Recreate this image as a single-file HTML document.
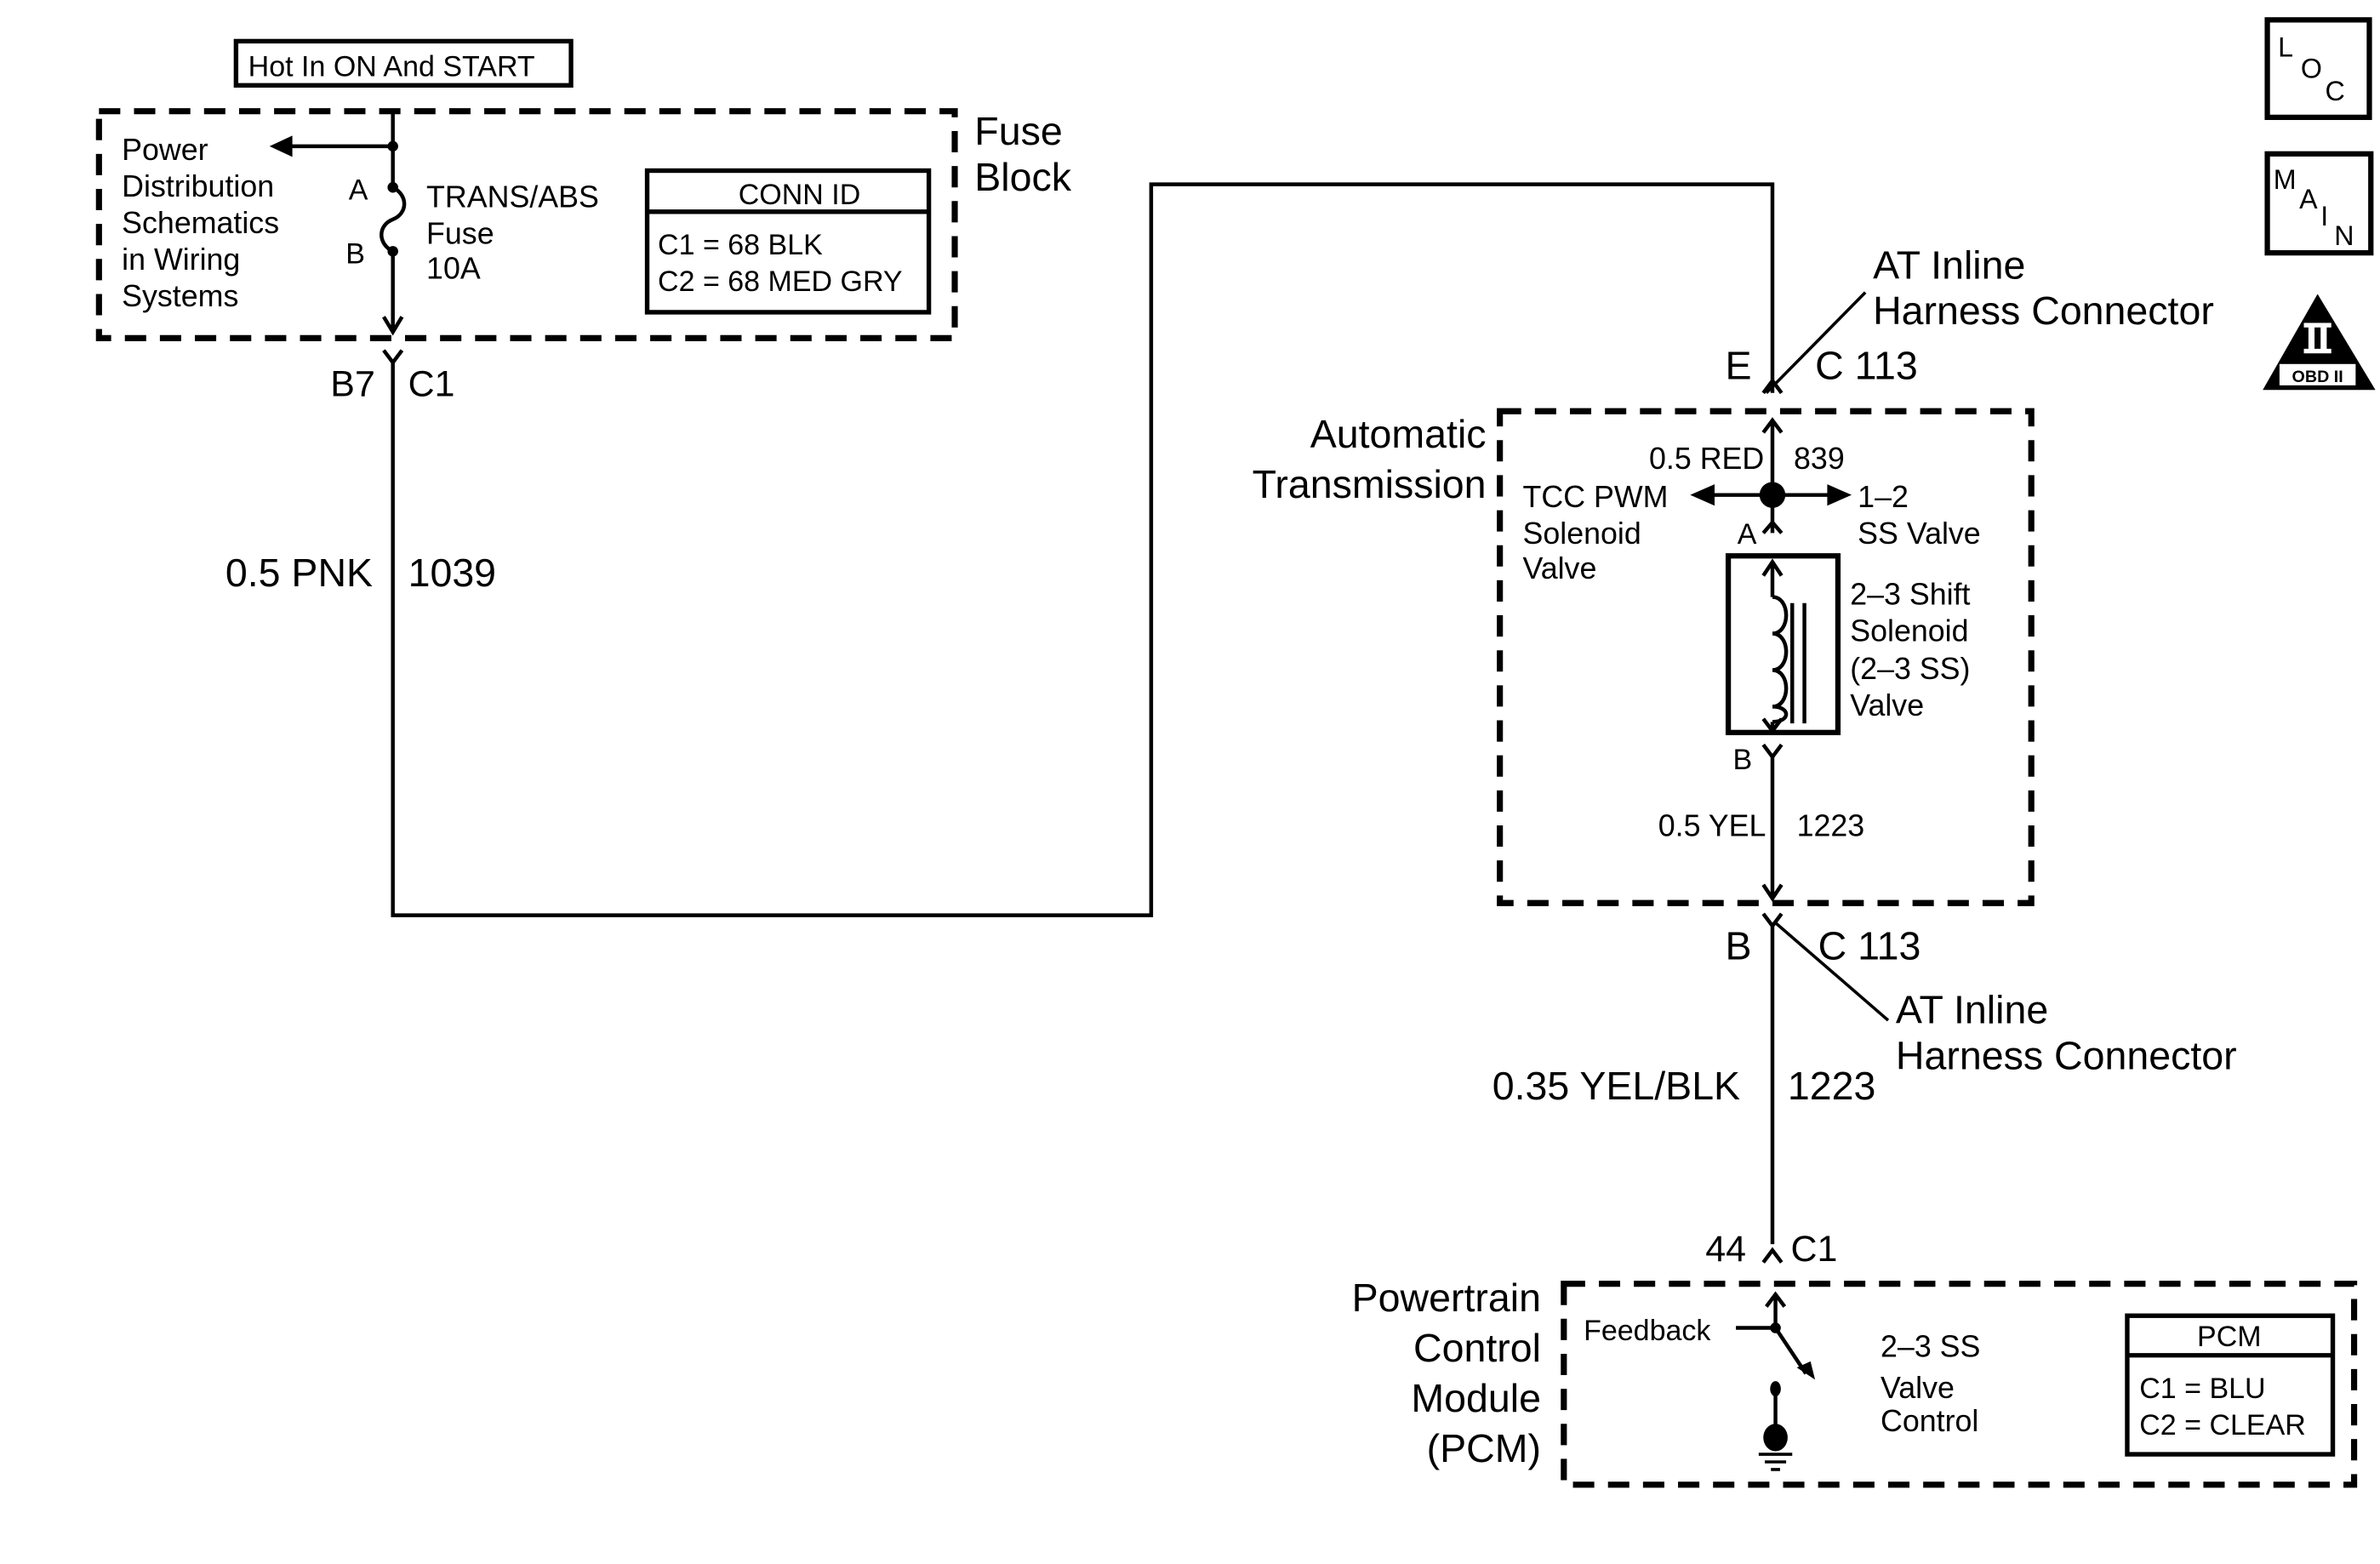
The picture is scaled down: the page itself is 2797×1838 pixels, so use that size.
<!DOCTYPE html>
<html><head><meta charset="utf-8"><style>
html,body{margin:0;padding:0;background:#fff;}
svg{display:block;}
text{font-family:"Liberation Sans",Arial,sans-serif;fill:#000;}
</style></head><body>
<svg width="2797" height="1838" viewBox="0 0 1563 1027" xmlns="http://www.w3.org/2000/svg">
<g fill="none" stroke="#000" stroke-width="2.5">
<rect x="155" y="27" width="220" height="29" stroke-width="3"/>
<g stroke-width="4" stroke-dasharray="14,9">
<rect x="65" y="73" width="562" height="149"/>
<rect x="985" y="270" width="349" height="323"/>
<rect x="1027" y="843" width="519" height="132"/>
</g>
<path d="M258 73 V123 M258 165 V218 M252 208 L258 218 L264 208"/>
<path d="M258 123 C268 128 268 140 258 144 C248 148 248 160 258 165"/>
<path d="M258 96 H190"/>
<rect x="425" y="112" width="185" height="93" stroke-width="3"/>
<path d="M425 139 H610" stroke-width="3"/>
<path d="M252 230 L258 238 L264 230"/>
<path d="M258 238 V601 H756 V121 H1164 V258"/>
<path d="M1158 258 L1164 250 L1170 258"/>
<path d="M1160 258 L1225 192" stroke-width="2"/>
<path d="M1164 278 V350 M1158 284 L1164 276 L1170 284"/>
<path d="M1158 350 L1164 343 L1170 350"/>
<path d="M1164 325 H1124 M1164 325 H1202"/>
<rect x="1135" y="365" width="72" height="116" stroke-width="3.5"/>
<path d="M1164 369 V392 M1158 378 L1164 369 L1170 378"/>
<path d="M1164 392 C1176 392 1176 416 1164 416 C1176 416 1176 440 1164 440 C1176 440 1176 464 1164 464 C1176 464 1176 474 1164 474"/>
<path d="M1164 474 V480 M1158 472 L1164 480 L1170 472"/>
<path d="M1177 396 V475 M1185 396 V475"/>
<path d="M1158 489 L1164 497 L1170 489 M1164 497 V590 M1158 581 L1164 590 L1170 581"/>
<path d="M1158 600 L1164 608 L1170 600 M1164 608 V817"/>
<path d="M1166 606 L1240 670" stroke-width="2"/>
<path d="M1158 829 L1164 821 L1170 829"/>
<path d="M1166 850 V872 M1160 858 L1166 850 L1172 858"/>
<path d="M1140 872 H1166 L1186 902"/>
<path d="M1166 912 V944"/>
<path d="M1155 955 H1177 M1159 960 H1173 M1163 965 H1169" stroke-width="2"/>
<rect x="1397" y="864" width="135" height="91" stroke-width="3"/>
<path d="M1397 890 H1532" stroke-width="3"/>
<rect x="1489" y="13" width="67" height="64" stroke-width="3.5"/>
<rect x="1489" y="101" width="68" height="65" stroke-width="3.5"/>
</g>
<g fill="#000">
<path d="M177 96 L192 89 L192 103 Z"/>
<circle cx="258" cy="96" r="3.5"/><circle cx="258" cy="123" r="3.5"/><circle cx="258" cy="165" r="3.5"/>
<circle cx="1164" cy="325" r="8.5"/>
<path d="M1110 325 L1126 318 L1126 332 Z M1216 325 L1200 318 L1200 332 Z"/>
<circle cx="1166" cy="872" r="3.5"/>
<path d="M1192 906 L1180 898 L1189 894 Z"/>
<ellipse cx="1166" cy="912" rx="3.5" ry="5"/>
<ellipse cx="1166" cy="944" rx="8" ry="9"/>
<path d="M1522 193 L1486 256 L1560 256 Z"/>
</g>
<g fill="#fff">
<rect x="1513" y="212" width="18" height="3"/>
<rect x="1513" y="229" width="18" height="3"/>
<rect x="1516" y="214" width="4" height="16"/>
<rect x="1524" y="214" width="4" height="16"/>
<rect x="1497" y="239" width="50" height="14"/>
</g>
<g font-size="19">
<text x="163" y="50">Hot In ON And START</text>
<text x="80" y="105" font-size="20">Power</text>
<text x="80" y="129" font-size="20">Distribution</text>
<text x="80" y="153" font-size="20">Schematics</text>
<text x="80" y="177" font-size="20">in Wiring</text>
<text x="80" y="201" font-size="20">Systems</text>
<text x="229" y="131">A</text>
<text x="227" y="173">B</text>
<text x="280" y="136" font-size="20">TRANS/ABS</text>
<text x="280" y="160" font-size="20">Fuse</text>
<text x="280" y="183" font-size="20">10A</text>
<text x="525" y="134" text-anchor="middle">CONN ID</text>
<text x="432" y="167">C1 =  68 BLK</text>
<text x="432" y="191">C2 =  68 MED GRY</text>
<text x="1083" y="308" font-size="20">0.5 RED</text>
<text x="1178" y="308" font-size="20">839</text>
<text x="1000" y="333" font-size="20">TCC PWM</text>
<text x="1000" y="357" font-size="20">Solenoid</text>
<text x="1000" y="380" font-size="20">Valve</text>
<text x="1220" y="333" font-size="20">1–2</text>
<text x="1220" y="357" font-size="20">SS Valve</text>
<text x="1141" y="357">A</text>
<text x="1215" y="397" font-size="20">2–3 Shift</text>
<text x="1215" y="421" font-size="20">Solenoid</text>
<text x="1215" y="446" font-size="20">(2–3 SS)</text>
<text x="1215" y="470" font-size="20">Valve</text>
<text x="1138" y="505">B</text>
<text x="1089" y="549" font-size="20">0.5 YEL</text>
<text x="1180" y="549" font-size="20">1223</text>
<text x="1040" y="880">Feedback</text>
<text x="1235" y="891" font-size="20">2–3 SS</text>
<text x="1235" y="918" font-size="20">Valve</text>
<text x="1235" y="940" font-size="20">Control</text>
<text x="1464" y="884" text-anchor="middle">PCM</text>
<text x="1405" y="918">C1 = BLU</text>
<text x="1405" y="942">C2 = CLEAR</text>
<text x="1522" y="251" font-size="11" font-weight="bold" text-anchor="middle">OBD II</text>
</g>
<g font-size="26">
<text x="640" y="95">Fuse</text>
<text x="640" y="125">Block</text>
<text x="217" y="260" font-size="24">B7</text>
<text x="268" y="260" font-size="24">C1</text>
<text x="148" y="385">0.5 PNK</text>
<text x="268" y="385">1039</text>
<text x="1133" y="249">E</text>
<text x="1192" y="249">C 113</text>
<text x="1230" y="183">AT Inline</text>
<text x="1230" y="213">Harness Connector</text>
<text x="976" y="294" text-anchor="end">Automatic</text>
<text x="976" y="327" text-anchor="end">Transmission</text>
<text x="1133" y="630">B</text>
<text x="1194" y="630">C 113</text>
<text x="1245" y="672">AT Inline</text>
<text x="1245" y="702">Harness Connector</text>
<text x="980" y="722">0.35 YEL/BLK</text>
<text x="1174" y="722">1223</text>
<text x="1120" y="828" font-size="24">44</text>
<text x="1176" y="828" font-size="24">C1</text>
<text x="1012" y="861" text-anchor="end">Powertrain</text>
<text x="1012" y="894" text-anchor="end">Control</text>
<text x="1012" y="927" text-anchor="end">Module</text>
<text x="1012" y="960" text-anchor="end">(PCM)</text>
</g>
<g font-size="18">
<text x="1496" y="37">L</text><text x="1511" y="51">O</text><text x="1527" y="66">C</text>
<text x="1493" y="124">M</text><text x="1510" y="137">A</text><text x="1524" y="148">I</text><text x="1533" y="161">N</text>
</g>
</svg>
</body></html>
